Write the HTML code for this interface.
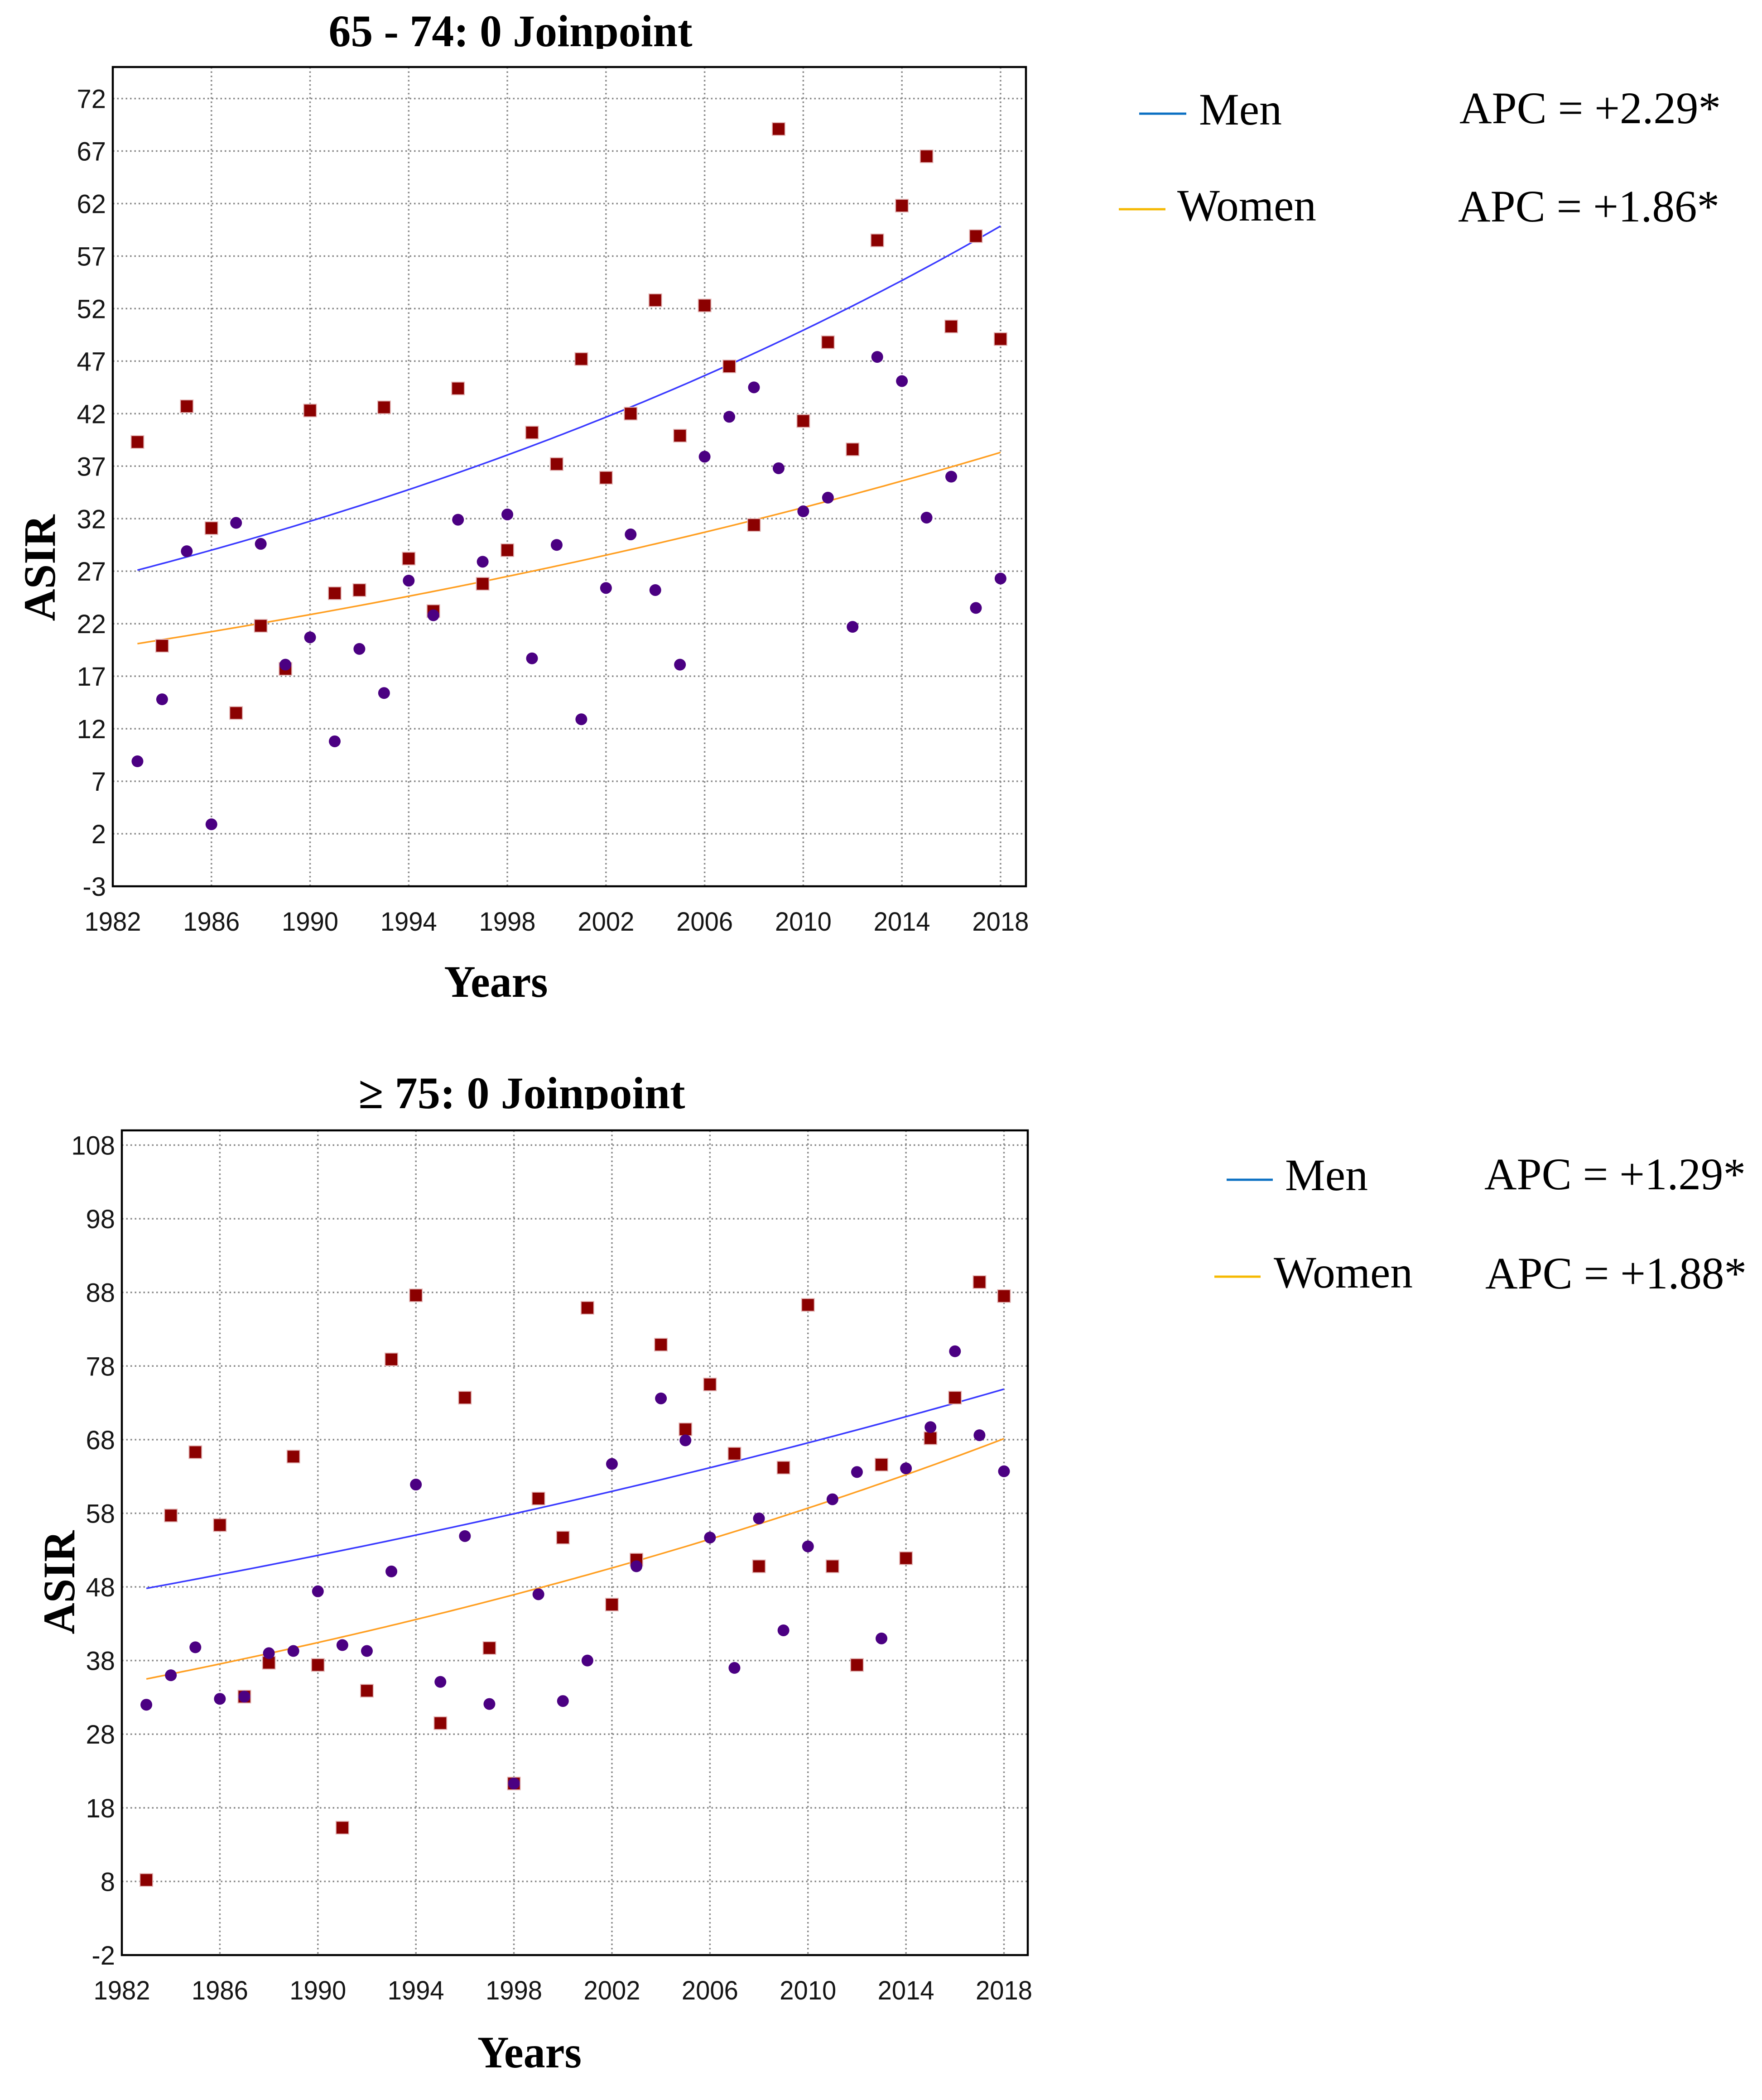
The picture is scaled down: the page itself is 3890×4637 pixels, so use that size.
<!DOCTYPE html>
<html><head><meta charset="utf-8"><style>
html,body{margin:0;padding:0;background:#fff;}
svg{display:block;}
</style></head><body>
<svg id="fig" width="3890" height="4637" viewBox="0 0 3890 4637" xmlns="http://www.w3.org/2000/svg">
<defs>
<clipPath id="clipT1"><rect x="0" y="0" width="3890" height="108"/></clipPath>
<clipPath id="clipT2"><rect x="0" y="2300" width="3890" height="150"/></clipPath>
</defs>
<g clip-path="url(#clipT1)">
<text x="1127" y="102" text-anchor="middle" font-family="Liberation Serif, serif" font-weight="bold" font-size="100" textLength="803" lengthAdjust="spacingAndGlyphs">65 - 74: 0 Joinpoint</text>
</g>
<g clip-path="url(#clipT2)">
<text x="1152" y="2447" text-anchor="middle" font-family="Liberation Serif, serif" font-weight="bold" font-size="100" textLength="721" lengthAdjust="spacingAndGlyphs">≥ 75: 0 Joinpoint</text>
</g>
<g id="c1"></g>
<g id="c2"></g>

<text x="1095" y="2201" text-anchor="middle" font-family="Liberation Serif, serif" font-weight="bold" font-size="100" textLength="229" lengthAdjust="spacingAndGlyphs">Years</text>
<text transform="translate(121,1254) rotate(-90)" text-anchor="middle" font-family="Liberation Serif, serif" font-weight="bold" font-size="100" textLength="235" lengthAdjust="spacingAndGlyphs">ASIR</text>
<text x="1169" y="4565" text-anchor="middle" font-family="Liberation Serif, serif" font-weight="bold" font-size="100" textLength="230" lengthAdjust="spacingAndGlyphs">Years</text>
<text transform="translate(164,3494) rotate(-90)" text-anchor="middle" font-family="Liberation Serif, serif" font-weight="bold" font-size="100" textLength="229" lengthAdjust="spacingAndGlyphs">ASIR</text>

<g font-family="Liberation Serif, serif" font-size="100">
<line x1="2515" y1="251" x2="2619" y2="251" stroke="#0a6fc2" stroke-width="5"/>
<text x="2647" y="275" textLength="183" lengthAdjust="spacingAndGlyphs">Men</text>
<text x="3222" y="272" textLength="577" lengthAdjust="spacingAndGlyphs">APC = +2.29*</text>
<line x1="2470" y1="462" x2="2573" y2="462" stroke="#f5b800" stroke-width="5"/>
<text x="2599" y="487" textLength="307" lengthAdjust="spacingAndGlyphs">Women</text>
<text x="3219" y="489" textLength="577" lengthAdjust="spacingAndGlyphs">APC = +1.86*</text>
</g>
<g font-family="Liberation Serif, serif" font-size="100">
<line x1="2708" y1="2605" x2="2810" y2="2605" stroke="#0a6fc2" stroke-width="5"/>
<text x="2837" y="2628" textLength="183" lengthAdjust="spacingAndGlyphs">Men</text>
<text x="3277" y="2626" textLength="577" lengthAdjust="spacingAndGlyphs">APC = +1.29*</text>
<line x1="2681" y1="2819" x2="2783" y2="2819" stroke="#f5b800" stroke-width="5"/>
<text x="2812" y="2843" textLength="307" lengthAdjust="spacingAndGlyphs">Women</text>
<text x="3279" y="2845" textLength="577" lengthAdjust="spacingAndGlyphs">APC = +1.88*</text>
</g>
</svg>
<script>
const years = [1983,1984,1985,1986,1987,1988,1989,1990,1991,1992,1993,1994,1995,1996,1997,1998,1999,2000,2001,2002,2003,2004,2005,2006,2007,2008,2009,2010,2011,2012,2013,2014,2015,2016,2017,2018];
const xTicks = [1982,1986,1990,1994,1998,2002,2006,2010,2014,2018];
const yTicks1 = [-3,2,7,12,17,22,27,32,37,42,47,52,57,62,67,72];
const yTicks2 = [-2,8,18,28,38,48,58,68,78,88,98,108];
const men1 = [39.3,19.9,42.7,31.1,13.5,21.8,17.7,42.3,24.9,25.2,42.6,28.2,23.2,44.4,25.8,29.0,40.2,37.2,47.2,35.9,42.0,52.8,39.9,52.3,46.5,31.4,69.1,41.3,48.8,38.6,58.5,61.8,66.5,50.3,58.9,49.1];
const women1 = [8.9,14.8,28.9,2.9,31.6,29.6,18.1,20.7,10.8,19.6,15.4,26.1,22.8,31.9,27.9,32.4,18.7,29.5,12.9,25.4,30.5,25.2,18.1,37.9,41.7,44.5,36.8,32.7,34.0,21.7,47.4,45.1,32.1,36.0,23.5,26.3];
const men2 = [8.2,57.7,66.3,56.4,33.1,37.7,65.7,37.4,15.3,33.9,78.9,87.6,29.5,73.7,39.7,21.3,60.0,54.7,85.9,45.6,51.7,80.9,69.4,75.5,66.1,50.8,64.2,86.3,50.8,37.4,64.6,51.9,68.2,73.7,89.4,87.5];
const women2 = [32.0,36.0,39.8,32.8,33.1,39.0,39.3,47.4,40.1,39.3,50.1,61.9,35.1,54.9,32.1,21.3,47.0,32.5,38.0,64.7,50.8,73.6,67.9,54.7,37.0,57.3,42.1,53.5,59.9,63.6,41.0,64.1,69.7,80.0,68.6,63.7];
const menStart = [27.1, 47.8];
const menApc = [2.29, 1.29];
const womenStart = [20.1, 35.5];
const womenApc = [1.86, 1.88];

const NS = "http://www.w3.org/2000/svg";
function mk(tag, attrs, parent){const e=document.createElementNS(NS,tag);for(const k in attrs)e.setAttribute(k,attrs[k]);parent.appendChild(e);return e;}

function drawChart(gid, box, yMin, yMax, yTicks, menVals, womenVals, idx){
  const g = document.getElementById(gid);
  const X = v => box.l + (v-1982)/(box.xMax-1982)*(box.r-box.l);
  const Y = v => box.b - (v-yMin)/(yMax-yMin)*(box.b-box.t);
  yTicks.forEach(t=>{
    if (t===yMin) return;
    const ln = mk('line',{x1:box.l,x2:box.r,y1:Y(t),y2:Y(t),stroke:'#888','stroke-width':3.5,'stroke-dasharray':'3.5 6'},g);
    
    
  });
  xTicks.forEach(t=>{
    if (t===1982) return;
    const ln = mk('line',{x1:X(t),x2:X(t),y1:box.t,y2:box.b,stroke:'#888','stroke-width':3.5,'stroke-dasharray':'3.5 6'},g);
    
    
  });
  yTicks.forEach(t=>{
    const tx = mk('text',{x:box.l-15,y:Y(t)+21,'text-anchor':'end','font-family':'Liberation Sans, sans-serif','font-size':58,fill:'#151515'},g);
    tx.textContent = t;
    
    
  });
  xTicks.forEach(t=>{
    const tx = mk('text',{x:X(t),y:box.b+98,'text-anchor':'middle','font-family':'Liberation Sans, sans-serif','font-size':58,fill:'#151515',textLength:125,lengthAdjust:'spacingAndGlyphs'},g);
    tx.textContent = t;
    
    
  });
  function curve(start, apc, color, name){
    let d='';
    for(let yr=1983; yr<=2018.001; yr+=0.25){
      const v = start*Math.pow(1+apc/100, yr-1983);
      d += (d?'L':'M') + X(yr).toFixed(1)+','+Y(v).toFixed(1);
    }
    const p = mk('path',{d:d,fill:'none',stroke:color,'stroke-width':3.5},g);
    
    
  }
  curve(menStart[idx], menApc[idx], '#3a3aff', 'men-trend-line');
  curve(womenStart[idx], womenApc[idx], '#ff9f22', 'women-trend-line');
  years.forEach((yr,i)=>{
    const s = mk('rect',{x:X(yr)-14,y:Y(menVals[i])-14,width:28,height:28,fill:'#8b0000',stroke:'#e3b5b5','stroke-width':2},g);
    
    
  });
  years.forEach((yr,i)=>{
    const c = mk('circle',{cx:X(yr),cy:Y(womenVals[i]),r:13,fill:'#4b0082'},g);
    
    
  });
  const fr = mk('rect',{x:box.l,y:box.t,width:box.r-box.l,height:box.b-box.t,fill:'none',stroke:'#000','stroke-width':4.5},g);
  
  
}
drawChart('c1',{l:249,r:2265,t:148,b:1957,xMax:2019.03},-3,75,yTicks1,men1,women1,0);
drawChart('c2',{l:269,r:2269,t:2496,b:4317,xMax:2018.97},-2,110,yTicks2,men2,women2,1);
</script>
</body></html>
